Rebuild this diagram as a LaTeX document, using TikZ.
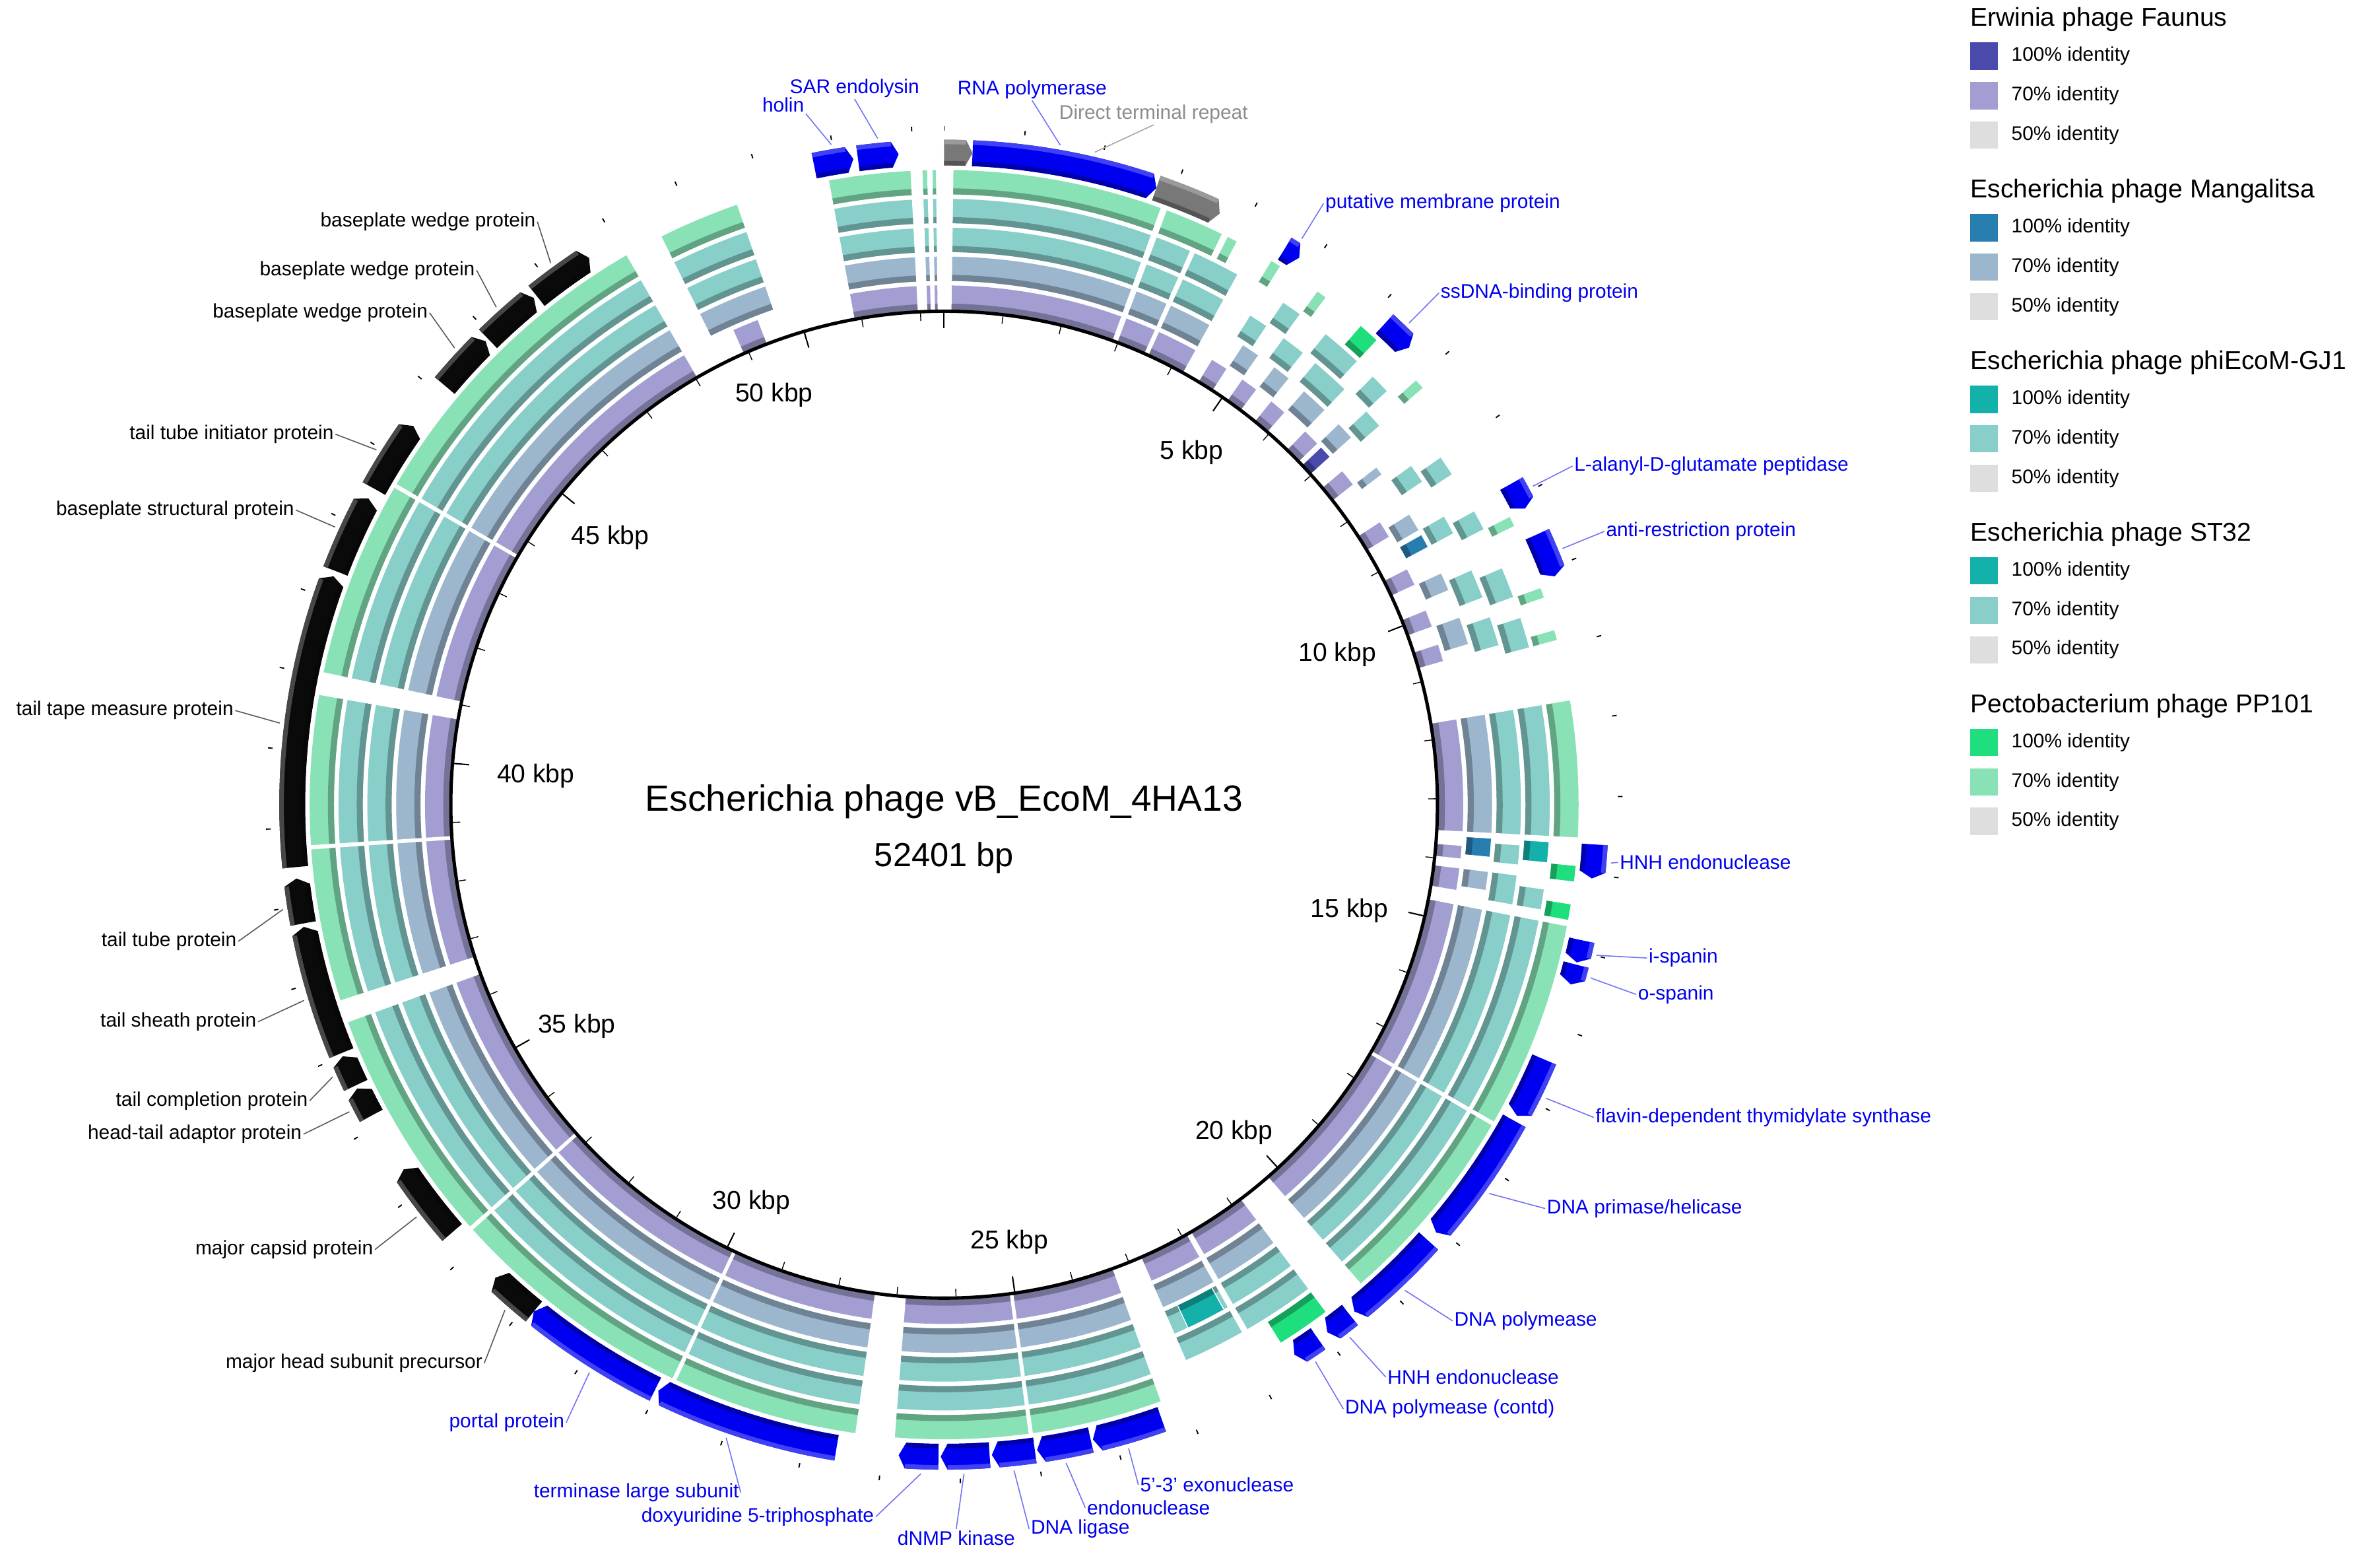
\documentclass[tikz,border=0pt]{standalone}
\usepackage{fontspec}
\setmainfont{Liberation Sans}
\definecolor{F}{RGB}{162,158,210}
\definecolor{FD}{RGB}{74,74,172}
\definecolor{M}{RGB}{156,182,206}
\definecolor{MD}{RGB}{40,125,175}
\definecolor{G}{RGB}{136,206,201}
\definecolor{GD}{RGB}{20,176,170}
\definecolor{P}{RGB}{136,226,182}
\definecolor{PD}{RGB}{30,222,126}
\definecolor{L}{RGB}{222,222,222}
\definecolor{GB}{RGB}{0,0,240}
\definecolor{GK}{RGB}{10,10,10}
\definecolor{GR}{RGB}{120,120,120}
\newcommand\rs[4]{%
 \pgfmathsetmacro\rInn{326+19*#1}\pgfmathsetmacro\rOut{\rInn+16}\pgfmathsetmacro\rMid{\rInn+4}%
 \pgfmathsetmacro\pa{90-#2}\pgfmathsetmacro\pb{90-#3}%
 \fill[#4] (\pa:\rInn) arc[start angle=\pa,end angle=\pb,radius=\rInn] -- (\pb:\rOut) arc[start angle=\pb,end angle=\pa,radius=\rOut] -- cycle;
 \fill[#4!72!black] (\pa:\rInn) arc[start angle=\pa,end angle=\pb,radius=\rInn] -- (\pb:\rMid) arc[start angle=\pb,end angle=\pa,radius=\rMid] -- cycle;
 \draw[white,line width=0.6] (\pa:\rInn) -- (\pa:\rOut) (\pb:\rInn) -- (\pb:\rOut);}
\newcommand\gn[3]{%
 \pgfmathsetmacro\pa{90-#1}\pgfmathsetmacro\pb{90-#2}\pgfmathsetmacro\pc{90-#2+0.6}%
 \fill[#3] (\pa:421) arc[start angle=\pa,end angle=\pc,radius=421] -- (\pb:429.5) -- (\pc:438) arc[start angle=\pc,end angle=\pa,radius=438] -- cycle;
 \fill[#3!70!black] (\pa:421) arc[start angle=\pa,end angle=\pc,radius=421] -- (\pc:424) arc[start angle=\pc,end angle=\pa,radius=424] -- cycle;
 \fill[#3!75!white] (\pa:435) arc[start angle=\pa,end angle=\pc,radius=435] -- (\pc:438) arc[start angle=\pc,end angle=\pa,radius=438] -- cycle;}
\tikzset{
 bl/.style={text=GB,font=\fontsize{13}{14}\selectfont,inner sep=1pt},
 bk/.style={text=black,font=\fontsize{13}{14}\selectfont,inner sep=1pt},
 bline/.style={draw=GB!55!white,line width=0.7},
 kline/.style={draw=black!65,line width=0.7},
 kbp/.style={font=\fontsize{17}{18}\selectfont},
 lgt/.style={font=\fontsize{17}{18}\selectfont,anchor=west,inner sep=0},
 lgi/.style={font=\fontsize{13}{14}\selectfont,anchor=west,inner sep=0},
}
\begin{document}
\begin{tikzpicture}[x=1pt,y=1pt]
\useasboundingbox[fill=white] (0,0) rectangle (1568,1030);
\begin{scope}[shift={(622,500)}]
\foreach \i/\c in {0/F,1/M,2/G,3/G,4/P}{
 \foreach \a/\b in {0.8/20,349.5/357,358/358.5,358.9/359.3,282/300,300.3/330,252/266,266.3/280,188/205,205.3/228,228.3/250,160/172,172.3/184.5,101/120,120.3/139,80.5/93}{\rs{\i}{\a}{\b}{\c}}
}
\foreach \i/\c in {0/F,1/M,2/G,3/G}{
 \foreach \a/\b in {20.5/24,24.4/29,143/150,150.5/156.5}{\rs{\i}{\a}{\b}{\c}}
}
\foreach \i/\c in {1/M,2/G,3/G,4/P}{\rs{\i}{333.5}{341}{\c}}
\rs{0}{336}{339}{F}
\rs{4}{20.5}{26}{P}\rs{4}{26.5}{27.5}{P}\rs{4}{143}{148}{PD}
\foreach \a/\b in {31/33,35/37,39/41,44/46,50/52,57/59,63/65,68/70,72/74,94.5/96,97/99.5}{\rs{0}{\a}{\b}{F}}
\foreach \a/\b in {33/35,37/39,41/44,46/48,52/53,58/60,65/67,70/73,97/99}{\rs{1}{\a}{\b}{M}}
\foreach \a/\b in {32/34,36/38.5,40/44,47/49,54/56,60/62,66/69,71/74,94/96,97/100}{\rs{2}{\a}{\b}{G}}
\foreach \a/\b in {34/36,39/43,45/47,55/57,61/63,67/70,72/75,98/100}{\rs{3}{\a}{\b}{G}}
\foreach \a/\b in {31/32,36/37,48/49,63/64,70/71,74/75}{\rs{4}{\a}{\b}{P}}
\foreach \a/\b in {41/43,99/100.5}{\rs{4}{\a}{\b}{PD}}
\rs{1}{93.5}{95.5}{MD}\rs{3}{93.5}{95.5}{GD}\rs{4}{95.5}{97}{PD}
\rs{2}{151}{155}{GD}\rs{0}{46.5}{48}{FD}\rs{1}{60.5}{62}{MD}
\gn{0}{2.5}{GR}\gn{2.5}{19}{GB}\gn{19}{25}{GR}
\foreach \a/\b in {348.5/352,352.4/356,31.5/33,42.5/45.5,60.5/63,65.5/69.5,93.5/96.5,102/104,104.2/106,113/118.5,119/131,132/141,141.5/144,145/147.5,160.5/166.8,167/171.8,172/175.8,176/180.3,180.5/184,189.5/206,206.3/219}{\gn{\a}{\b}{GB}}
\foreach \a/\b in {219/223.5,229/236,241.5/244.2,244.5/247.3,247.6/259.2,259.5/263.5,264.5/290.5,291/298,299/305.5,310/315.3,315.6/321,321.3/327}{\gn{\a}{\b}{GK}}
\draw[line width=2.2] (0,0) circle[radius=325];
\foreach \k in {0,...,52}{\pgfmathsetmacro\ph{90-\k*6.8701}
 \draw[line width=0.6] (\ph:324) -- (\ph:319);
 \draw[line width=0.8] (\ph:444) -- (\ph:447);}
\foreach \k in {0,5,...,50}{\pgfmathsetmacro\ph{90-\k*6.8701}
 \draw[line width=0.9] (\ph:324) -- (\ph:314);}
\foreach \n/\t in {hol/350.3,sar/354.3,rna/10,dtr/13,mem/32.3,ssd/44,ala/61.6,ant/67.5,hnh/95,isp/103,osp/105,fla/116,pri/125.5,pol/136.5,hnb/142.7,con/146.3,exo/164,end/169.5,lig/174,dnm/178.3,dox/182,ter/199,por/212,mhd/221,cap/232,hta/242.7,tcp/246,tsh/253,ttb/261,tap/277,bst/294.5,tti/302,bw1/313,bw2/318,bw3/324}{\coordinate (g\n) at ({90-\t}:441);}
\end{scope}
\node[font=\fontsize{24}{26}\selectfont] (title) at (622,502) {Escherichia phage vB\_EcoM\_4HA13};
\node[font=\fontsize{22}{24}\selectfont] (size) at (622,465) {52401 bp};
\foreach \n/\x/\y/\t in {k5/785/298/5 kbp,k10/881/431/10 kbp,k15/889/600/15 kbp,k20/813/746/20 kbp,k25/665/818/25 kbp,k30/495/792/30 kbp,k35/380/676/35 kbp,k40/353/511/40 kbp,k45/402/354/45 kbp,k50/510/260/50 kbp}{\node[kbp] (\n) at (\x,1030-\y) {\t};}
\node[bl] (lhol) at (516,961) {holin};
\node[bl] (lsar) at (563,972) {SAR endolysin};
\node[bl] (lrna) at (680,971) {RNA polymerase};
\node[bl,text=black!45] (ldtr) at (760,955) {Direct terminal repeat};
\draw[bline] (lhol.south east) -- (ghol);
\draw[bline] (lsar.south) -- (gsar);
\draw[bline] (lrna.south) -- (grna);
\draw[draw=black!35,line width=0.7] (ldtr.south) -- (gdtr);
\foreach \n/\x/\y/\t in {mem/872/134/putative membrane protein,ssd/948/193/ssDNA-binding protein,ala/1036/307/L-alanyl-D-glutamate peptidase,ant/1057/350/anti-restriction protein,hnh/1066/568/HNH endonuclease,isp/1085/631/i-spanin,osp/1078/655/o-spanin,fla/1050/736/flavin-dependent thymidylate synthase,pri/1018/796/{DNA primase/helicase},pol/957/870/DNA polymease,hnb/913/907/HNH endonuclease,con/885/928/DNA polymease (contd),exo/750/978/5'-3' exonuclease,end/715/993/endonuclease,lig/678/1007/DNA ligase}{
 \node[bl,anchor=west] (l\n) at (\x,1030-\y) {\t};
 \draw[bline] (l\n.west) -- (g\n);}
\node[bl] (ldnm) at (630,17) {dNMP kinase};
\draw[bline] (ldnm.north) -- (gdnm);
\foreach \n/\x/\y/\t in {dox/577/999/doxyuridine 5-triphosphate,ter/488/983/terminase large subunit,por/373/937/portal protein}{
 \node[bl,anchor=east] (l\n) at (\x,1030-\y) {\t};
 \draw[bline] (l\n.east) -- (g\n);}
\foreach \n/\x/\y/\t in {mhd/319/898/major head subunit precursor,cap/247/823/major capsid protein,hta/200/747/head-tail adaptor protein,tcp/204/725/tail completion protein,tsh/170/673/tail sheath protein,ttb/157/620/tail tube protein,tap/155/468/tail tape measure protein,bst/195/336/baseplate structural protein,tti/221/286/tail tube initiator protein,bw1/283/206/baseplate wedge protein,bw2/314/178/baseplate wedge protein,bw3/354/146/baseplate wedge protein}{
 \node[bk,anchor=east] (l\n) at (\x,1030-\y) {\t};
 \draw[kline] (l\n.east) -- (g\n);}
\foreach \j/\t/\a/\b in {0/Erwinia phage Faunus/FD/F,1/Escherichia phage Mangalitsa/MD/M,2/Escherichia phage phiEcoM-GJ1/GD/G,3/Escherichia phage ST32/GD/G,4/Pectobacterium phage PP101/PD/P}{
 \pgfmathsetmacro\yy{1030-13-113*\j}
 \node[lgt] (t\j) at (1298,\yy) {\t};
 \foreach \k/\c/\s in {1/\a/100\% identity,2/\b/70\% identity,3/L/50\% identity}{
  \pgfmathsetmacro\yk{\yy-26*\k+2}
  \fill[\c] (1298,\yk-9) rectangle (1316,\yk+9);
  \node[lgi] (e\j\k) at (1325,\yk) {\s};}
}
\end{tikzpicture}
\end{document}
